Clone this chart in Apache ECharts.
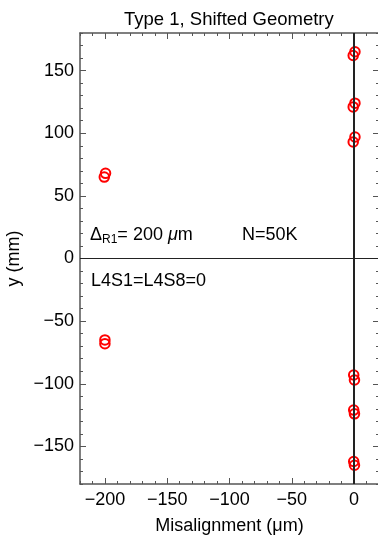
<!DOCTYPE html>
<html>
<head>
<meta charset="utf-8">
<script src="https://cdn.jsdelivr.net/npm/echarts@6/dist/echarts.min.js"></script>
<style>
  html, body { margin: 0; padding: 0; background: #fff; }
  #chart { width: 378px; height: 538px; }
</style>
</head>
<body>
<div id="chart"></div>
<script>
// misalignment (um) and y (mm) for each hit
const shiftedX = [-199.5, -200.5, -200, -200];
const shiftedY = [68, 65, -65, -68];
const nominalX = [0.7, -0.7, 0.7, -0.7, 0.7, -0.7, -0.3, 0.3, -0.3, 0.3, -0.3, 0.3];
const nominalY = [165, 162, 124, 121, 97, 93, -93, -97, -121, -124, -162, -165];

const xTicks = [-200, -150, -100, -50, 0];
const yTicks = [-150, -100, -50, 0, 50, 100, 150];

const font = 'Liberation Sans, Arial, sans-serif';
const frameColor = '#555';

function toPoints(xs, ys) {
    let pts = [];
    for (let i = 0; i < xs.length; i++) pts.push([xs[i], ys[i]]);
    return pts;
}

let myChart = echarts.init(document.getElementById('chart'));

function majorAxis(extra) {
    return Object.assign({
        type: 'value',
        axisLine: { show: true, onZero: false, lineStyle: { color: frameColor, width: 1.5 } },
        splitLine: { show: false }
    }, extra);
}
function minorAxis(extra) {
    return Object.assign({
        type: 'value', interval: 10,
        axisLine: { show: false, onZero: false },
        axisLabel: { show: false },
        axisTick: { show: true, inside: true, length: 3, lineStyle: { color: frameColor, width: 1 } },
        splitLine: { show: false }
    }, extra);
}
let majorTick = (vals) => ({ show: true, inside: true, length: 6, customValues: vals, lineStyle: { color: frameColor, width: 1 } });
let fmt = v => (v < 0 ? '\u2212' + Math.abs(v) : '' + v);

let option = {
    animation: false,
    backgroundColor: '#fff',
    title: {
        text: 'Type 1, Shifted Geometry',
        left: 119, top: 5,
        textStyle: { fontFamily: font, fontSize: 18.5, fontWeight: 'normal', color: '#000' }
    },
    grid: { left: 80, right: -1, top: 33, bottom: 54, containLabel: false, outerBoundsMode: 'none' },
    xAxis: [
        majorAxis({
            min: -220, max: 20, position: 'bottom',
            name: 'Misalignment (\u03bcm)', nameLocation: 'middle', nameGap: 33,
            nameTextStyle: { fontFamily: font, fontSize: 18, color: '#000' },
            axisLabel: { fontFamily: font, fontSize: 18, color: '#000', margin: 7, customValues: xTicks, formatter: fmt },
            axisTick: majorTick(xTicks)
        }),
        majorAxis({
            min: -220, max: 20, position: 'top',
            axisLabel: { show: false },
            axisTick: majorTick(xTicks)
        }),
        minorAxis({ min: -220, max: 20, position: 'bottom' }),
        minorAxis({ min: -220, max: 20, position: 'top' })
    ],
    yAxis: [
        majorAxis({
            min: -180, max: 180, position: 'left',
            name: 'y (mm)', nameLocation: 'middle', nameGap: 54,
            nameTextStyle: { fontFamily: font, fontSize: 18, color: '#000' },
            axisLabel: { fontFamily: font, fontSize: 18, color: '#000', margin: 6, customValues: yTicks, formatter: fmt },
            axisTick: majorTick(yTicks)
        }),
        majorAxis({
            min: -180, max: 180, position: 'right',
            axisLabel: { show: false },
            axisTick: majorTick(yTicks)
        }),
        minorAxis({ min: -180, max: 180, position: 'left' }),
        minorAxis({ min: -180, max: 180, position: 'right' })
    ],
    graphic: [
        {
            type: 'text', left: 90, top: 226,
            style: {
                text: '\u0394{sub|R1}= 200 {i|\u03bc}m',
                fontFamily: font, fontSize: 18, fill: '#000',
                rich: {
                    sub: { fontFamily: font, fontSize: 12, padding: [9, 0, 0, 0] },
                    i: { fontFamily: font, fontSize: 18, fontStyle: 'italic' }
                }
            }
        },
        {
            type: 'text', left: 242, top: 226,
            style: { text: 'N=50K', fontFamily: font, fontSize: 18, fill: '#000' }
        },
        {
            type: 'text', left: 91, top: 272,
            style: { text: 'L4S1=L4S8=0', fontFamily: font, fontSize: 18, fill: '#000' }
        }
    ],
    series: [
        {
            type: 'scatter', data: [], z: 1, silent: true,
            markLine: {
                symbol: 'none', silent: true, animation: false, label: { show: false },
                data: [
                    { xAxis: 0, lineStyle: { color: '#222', width: 2, type: 'solid' } },
                    { yAxis: 0, lineStyle: { color: '#222', width: 1, type: 'solid' } }
                ]
            }
        },
        {
            type: 'scatter', z: 3, symbol: 'circle', symbolSize: 9.5,
            itemStyle: { color: 'rgba(0,0,0,0)', borderColor: '#ff0000', borderWidth: 2, opacity: 1 },
            data: toPoints(nominalX, nominalY)
        },
        {
            type: 'scatter', z: 3, symbol: 'circle', symbolSize: 9.5,
            itemStyle: { color: 'rgba(0,0,0,0)', borderColor: '#ff0000', borderWidth: 2, opacity: 1 },
            data: toPoints(shiftedX, shiftedY)
        }
    ]
};

myChart.setOption(option);
</script>
</body>
</html>
